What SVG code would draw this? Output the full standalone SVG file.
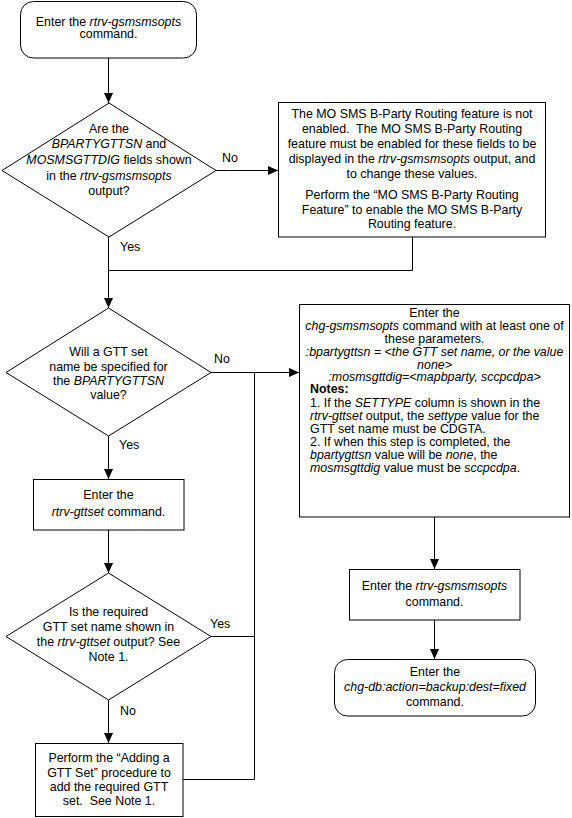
<svg xmlns="http://www.w3.org/2000/svg" width="572" height="818" viewBox="0 0 572 818">
<style>
.s{fill:#fff;stroke:#000;stroke-width:1}
.c{fill:none;stroke:#000;stroke-width:1}
text{font-family:"Liberation Sans",Arial,sans-serif;font-size:12.4px;fill:#000}
.m{text-anchor:middle}
.i{font-style:italic}
.b{font-weight:bold}
.p{white-space:pre}
</style>
<defs>
<marker id="ah" markerUnits="userSpaceOnUse" markerWidth="10" markerHeight="10" refX="10" refY="4.5" orient="auto">
<path d="M0,0 L10,4.5 L0,9 Z" fill="#000"/>
</marker>
</defs>
<g id="connectors">
<path class="c" d="M108.5 58 V103" marker-end="url(#ah)"/>
<path class="c" d="M216 170.5 H278" marker-end="url(#ah)"/>
<path class="c" d="M108.5 237 V308" marker-end="url(#ah)"/>
<path class="c" d="M412.5 237 V270.5 H108.5"/>
<path class="c" d="M211 372.5 H299" marker-end="url(#ah)"/>
<path class="c" d="M108.5 436 V479" marker-end="url(#ah)"/>
<path class="c" d="M108.5 530 V573" marker-end="url(#ah)"/>
<path class="c" d="M211 636.5 H254.5"/>
<path class="c" d="M108.5 700 V743" marker-end="url(#ah)"/>
<path class="c" d="M183 779.5 H254.5 V372.5"/>
<path class="c" d="M434.5 517 V569" marker-end="url(#ah)"/>
<path class="c" d="M434.5 620 V659" marker-end="url(#ah)"/>
<text x="222" y="162">No</text>
<text x="120" y="251">Yes</text>
<text x="214" y="363">No</text>
<text x="119" y="449">Yes</text>
<text x="210" y="628">Yes</text>
<text x="120" y="715">No</text>
</g>
<g id="start">
<rect class="s" x="20.5" y="1.5" width="176" height="56.5" rx="13"/>
<text class="m" x="108.5" y="25.5">Enter the <tspan class="i">rtrv-gsmsmsopts</tspan></text>
<text class="m" x="108.5" y="38">command.</text>
</g>
<g id="d1">
<polygon class="s" points="109,103 216,170.5 109,237 2,170.5"/>
<text class="m" x="109" y="133">Are the</text>
<text class="m" x="109" y="148"><tspan class="i">BPARTYGTTSN</tspan> and</text>
<text class="m" x="109" y="164"><tspan class="i">MOSMSGTTDIG</tspan> fields shown</text>
<text class="m" x="109" y="180">in the <tspan class="i">rtrv-gsmsmsopts</tspan></text>
<text class="m" x="109" y="195">output?</text>
</g>
<g id="notEnabled">
<rect class="s" x="278.5" y="102.5" width="267" height="134.5"/>
<text class="m" x="412" y="118">The MO SMS B-Party Routing feature is not</text>
<text class="m p" x="412" y="133">enabled.  The MO SMS B-Party Routing</text>
<text class="m" x="412" y="148">feature must be enabled for these fields to be</text>
<text class="m" x="412" y="163">displayed in the <tspan class="i">rtrv-gsmsmsopts</tspan> output, and</text>
<text class="m" x="412" y="178">to change these values.</text>
<text class="m" x="412" y="199">Perform the “MO SMS B-Party Routing</text>
<text class="m" x="412" y="214">Feature” to enable the MO SMS B-Party</text>
<text class="m" x="412" y="228">Routing feature.</text>
</g>
<g id="d2">
<polygon class="s" points="108.5,308 211,372.5 108.5,436 6,372.5"/>
<text class="m" x="108.5" y="356">Will a GTT set</text>
<text class="m" x="108.5" y="370.5">name be specified for</text>
<text class="m" x="108.5" y="385">the <tspan class="i">BPARTYGTTSN</tspan></text>
<text class="m" x="108.5" y="399">value?</text>
</g>
<g id="rtrvGttset">
<rect class="s" x="33.5" y="479.5" width="150.5" height="50.5"/>
<text class="m" x="108.5" y="499">Enter the</text>
<text class="m" x="108.5" y="516"><tspan class="i">rtrv-gttset</tspan> command.</text>
</g>
<g id="d3">
<polygon class="s" points="108.5,573 211,636.5 108.5,700 6,636.5"/>
<text class="m" x="108.5" y="616">Is the required</text>
<text class="m" x="108.5" y="631">GTT set name shown in</text>
<text class="m" x="108.5" y="646">the <tspan class="i">rtrv-gttset</tspan> output? See</text>
<text class="m" x="108.5" y="661">Note 1.</text>
</g>
<g id="addGttSet">
<rect class="s" x="35.5" y="743.5" width="147.5" height="73"/>
<text class="m" x="109" y="762">Perform the “Adding a</text>
<text class="m" x="109" y="776.5">GTT Set” procedure to</text>
<text class="m" x="109" y="791">add the required GTT</text>
<text class="m p" x="109" y="805">set.  See Note 1.</text>
</g>
<g id="chgGsmsmsopts">
<rect class="s" x="299.5" y="304.5" width="270" height="212.5"/>
<text class="m" x="434.5" y="316.5">Enter the</text>
<text class="m" x="434.5" y="329.5"><tspan class="i">chg-gsmsmsopts</tspan> command with at least one of</text>
<text class="m" x="434.5" y="342.5">these parameters.</text>
<text class="m i" x="434.5" y="355.5">:bpartygttsn = &lt;the GTT set name, or the value</text>
<text class="m i" x="434.5" y="368.5">none&gt;</text>
<text class="m i" x="434.5" y="381">:mosmsgttdig=&lt;mapbparty, sccpcdpa&gt;</text>
<text class="b" x="310" y="393">Notes:</text>
<text x="310" y="406.5">1. If the <tspan class="i">SETTYPE</tspan> column is shown in the</text>
<text x="310" y="419.5"><tspan class="i">rtrv-gttset</tspan> output, the <tspan class="i">settype</tspan> value for the</text>
<text x="310" y="432.5">GTT set name must be CDGTA.</text>
<text x="310" y="446">2. If when this step is completed, the</text>
<text x="310" y="459"><tspan class="i">bpartygttsn</tspan> value will be <tspan class="i">none</tspan>, the</text>
<text x="310" y="472"><tspan class="i">mosmsgttdig</tspan> value must be <tspan class="i">sccpcdpa</tspan>.</text>
</g>
<g id="rtrvGsmsmsopts2">
<rect class="s" x="349.5" y="569.5" width="170.5" height="50.5"/>
<text class="m" x="434.5" y="590">Enter the <tspan class="i">rtrv-gsmsmsopts</tspan></text>
<text class="m" x="434.5" y="605.5">command.</text>
</g>
<g id="chgDb">
<rect class="s" x="334.5" y="659.5" width="201" height="56.5" rx="13"/>
<text class="m" x="435" y="676">Enter the</text>
<text class="m i" x="435" y="690.5">chg-db:action=backup:dest=fixed</text>
<text class="m" x="435" y="706">command.</text>
</g>
</svg>
